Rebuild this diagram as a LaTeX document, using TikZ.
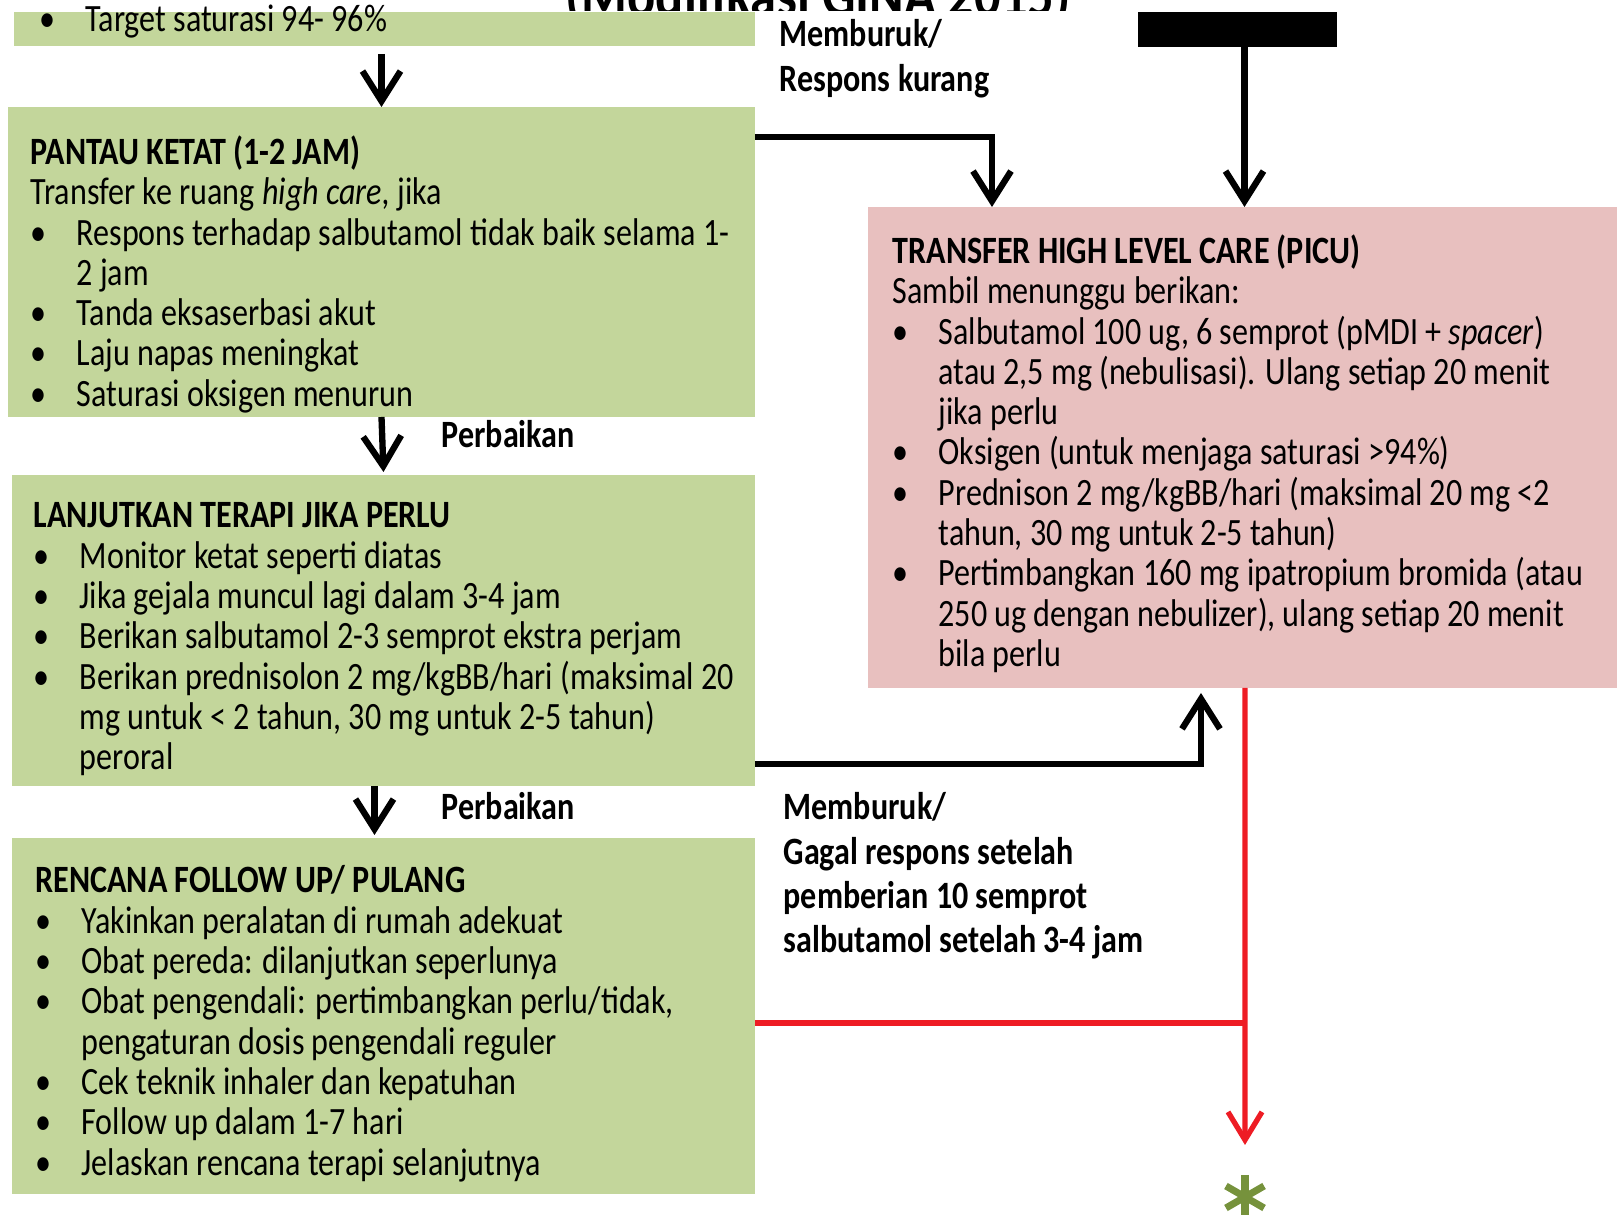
\documentclass[tikz,border=0pt]{standalone}
\usepackage{fontspec}
\setmainfont{Carlito}[FakeStretch=0.83]
\usetikzlibrary{arrows.meta,positioning}

\definecolor{boxgreen}{HTML}{C3D69B}
\definecolor{boxpink}{HTML}{E8C0BF}
\definecolor{starolive}{HTML}{76923C}
\definecolor{linered}{HTML}{EE1C24}

% bullet and hanging indent for the lists
\newcommand{\bitem}{\makebox[4.6mm][l]{\textbullet}}
\newcommand{\bcont}{\hspace*{4.6mm}}

\tikzset{
  box/.style={anchor=north west, inner sep=0pt, outer sep=0pt},
  greenbox/.style={box, fill=boxgreen},
  pinkbox/.style={box, fill=boxpink},
  boxtext/.style={anchor=north west, inner sep=0pt, align=left, font=\fontsize{11}{11.47}\selectfont},
  lbl/.style={inner sep=0pt, align=left, font=\bfseries\fontsize{11}{12.6}\selectfont},
  arr/.style={line width=1.8pt, -{Straight Barb[length=3mm,width=3.8mm]}},
  redarr/.style={line width=1.5pt, draw=linered, -{Straight Barb[length=2.8mm,width=3.4mm]}},
}

\begin{document}
\begin{tikzpicture}[x=0.1mm, y=-0.1mm]
  \useasboundingbox (0,0) rectangle (1617,1215);
  \fill[white] (0,0) rectangle (1617,1215);

  % title, only its top strip shows
  \begin{scope}
    \clip (500,-60) rectangle (1120,11);
    \node[font=\bfseries\fontsize{18}{20}\selectfont, anchor=base, text depth=0pt, inner sep=0pt] (title) at (818,17) {(Modifikasi GINA 2015)};
  \end{scope}

  % boxes
  \node[greenbox, minimum width=74.1mm, minimum height=3.4mm] (topbar) at (14,12) {};
  \node[greenbox, minimum width=74.7mm, minimum height=31mm] (pantau) at (8,107) {};
  \node[greenbox, minimum width=74.3mm, minimum height=31.1mm] (lanjut) at (12,475) {};
  \node[greenbox, minimum width=74.3mm, minimum height=35.6mm] (rencana) at (12,838) {};
  \node[pinkbox, minimum width=74.9mm, minimum height=48.1mm] (picu) at (868,207) {};
  \node[box, fill=black, minimum width=19.9mm, minimum height=3.5mm] (blackbox) at (1138,12) {};

  % box texts
  \node[boxtext, anchor=west] (topbar-t) at ([xshift=2.5mm,yshift=0.7mm]topbar.west)
    {\bitem Target saturasi 94- 96\%};
  \node[boxtext] (pantau-t) at ([xshift=2.2mm,yshift=-2.8mm]pantau.north west) {%
    \textbf{PANTAU KETAT (1-2 JAM)}\\
    Transfer ke ruang \textit{high care,} jika\\
    \bitem Respons terhadap salbutamol tidak baik selama 1-\\
    \bcont 2 jam\\
    \bitem Tanda eksaserbasi akut\\
    \bitem Laju napas meningkat\\
    \bitem Saturasi oksigen menurun};
  \node[boxtext] (lanjut-t) at ([xshift=2.1mm,yshift=-2.7mm]lanjut.north west) {%
    \textbf{LANJUTKAN TERAPI JIKA PERLU}\\
    \bitem Monitor ketat seperti diatas\\
    \bitem Jika gejala muncul lagi dalam 3-4 jam\\
    \bitem Berikan salbutamol 2-3 semprot ekstra perjam\\
    \bitem Berikan prednisolon 2 mg/kgBB/hari (maksimal 20\\
    \bcont mg untuk < 2 tahun, 30 mg untuk 2-5 tahun)\\
    \bcont peroral};
  \node[boxtext] (rencana-t) at ([xshift=2.3mm,yshift=-2.7mm]rencana.north west) {%
    \textbf{RENCANA FOLLOW UP/ PULANG}\\
    \bitem Yakinkan peralatan di rumah adekuat\\
    \bitem Obat pereda: dilanjutkan seperlunya\\
    \bitem Obat pengendali: pertimbangkan perlu/tidak,\\
    \bcont pengaturan dosis pengendali reguler\\
    \bitem Cek teknik inhaler dan kepatuhan\\
    \bitem Follow up dalam 1-7 hari\\
    \bitem Jelaskan rencana terapi selanjutnya};
  \node[boxtext] (picu-t) at ([xshift=2.4mm,yshift=-2.7mm]picu.north west) {%
    \textbf{TRANSFER HIGH LEVEL CARE (PICU)}\\
    Sambil menunggu berikan:\\
    \bitem Salbutamol 100 ug, 6 semprot (pMDI + \textit{spacer})\\
    \bcont atau 2,5 mg (nebulisasi). Ulang setiap 20 menit\\
    \bcont jika perlu\\
    \bitem Oksigen (untuk menjaga saturasi >94\%)\\
    \bitem Prednison 2 mg/kgBB/hari (maksimal 20 mg <2\\
    \bcont tahun, 30 mg untuk 2-5 tahun)\\
    \bitem Pertimbangkan 160 mg ipatropium bromida (atau\\
    \bcont 250 ug dengan nebulizer), ulang setiap 20 menit\\
    \bcont bila perlu};

  % labels beside the arrows
  \node[lbl, anchor=north west] (worse1) at (779,19) {Memburuk/\\Respons kurang};
  \node[lbl, anchor=north west] (worse2) at (783,792)
    {Memburuk/\\Gagal respons setelah\\pemberian 10 semprot\\salbutamol setelah 3-4 jam};
  \node[lbl, anchor=west] (better1) at (441,434) {Perbaikan};
  \node[lbl, anchor=west] (better2) at (441,806) {Perbaikan};

  % main flow
  \draw[arr] ([yshift=-0.8mm]topbar.south -| pantau.north) -- (pantau.north);
  \draw[arr] (pantau.south) -- ([yshift=0.3mm]lanjut.north);
  \draw[arr] ([xshift=-0.9mm]lanjut.south) -- ([xshift=-0.9mm,yshift=0.3mm]rencana.north);

  % escalation to PICU
  \draw[arr] ([yshift=-3mm]pantau.north east) -| ([xshift=12.4mm]picu.north west);
  \draw[arr] ([xshift=0.7mm]blackbox.south) -- ([xshift=0.7mm]blackbox.south |- picu.north);
  \draw[arr] ([yshift=2.2mm]lanjut.south east) -| ([xshift=33.3mm,yshift=-0.5mm]picu.south west);

  % red branch down to the asterisk
  \coordinate (star) at (1245,1197);
  \draw[redarr] ([xshift=37.7mm]picu.south west) -- ([yshift=5.2mm]star);
  \draw[line width=1.5pt, draw=linered] ([yshift=-0.7mm]rencana.east) -- ([yshift=-0.7mm]rencana.east -| star);
  \foreach \a in {90,30,150}
    \draw[starolive, line width=2pt] ([shift={(\a:2.2mm)}]star) -- ([shift={(\a+180:2.2mm)}]star);
\end{tikzpicture}
\end{document}
